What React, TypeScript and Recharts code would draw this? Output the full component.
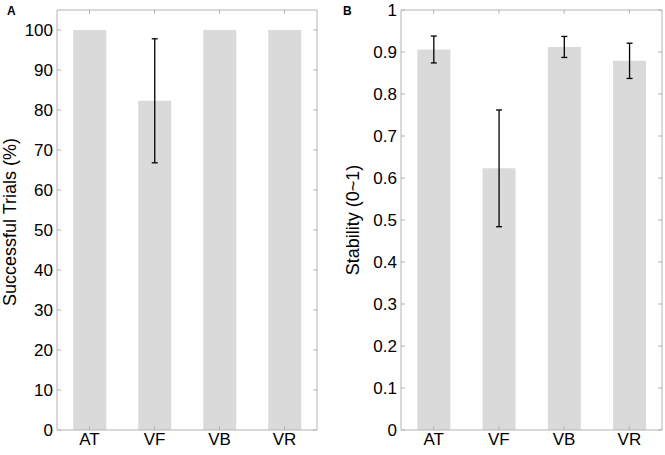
import React from "react";
import { BarChart, Bar, XAxis, YAxis, ErrorBar } from "recharts";

const categories = ["AT", "VF", "VB", "VR"];
const successValues = [100, 82.3, 100, 100];
const successErrors: (number | null)[] = [null, 15.5, null, null];
const stabilityValues = [0.906, 0.623, 0.912, 0.879];
const stabilityErrors = [0.032, 0.139, 0.025, 0.042];
const successTicks = [0, 10, 20, 30, 40, 50, 60, 70, 80, 90, 100];
const stabilityTicks = [0, 0.1, 0.2, 0.3, 0.4, 0.5, 0.6, 0.7, 0.8, 0.9, 1];

const dataA = categories.map((c, i) => ({ cat: c, value: successValues[i], err: successErrors[i] }));
const dataB = categories.map((c, i) => ({ cat: c, value: stabilityValues[i], err: stabilityErrors[i] }));

const FONT = "'Liberation Sans', Arial, sans-serif";
const BOX = "#b4b4b4";
const BAR = "#dadada";
const tickStyle = { fill: "#000", fontSize: 17, fontFamily: FONT };
const noLabel = () => <g />;

function Panel({
  data,
  width,
  yWidth,
  right,
  domain,
  ticks,
  fmt,
}: {
  data: any[];
  width: number;
  yWidth: number;
  right: number;
  domain: [number, number];
  ticks: number[];
  fmt: (v: number) => string;
}) {
  return (
    <BarChart
      width={width}
      height={455}
      data={data}
      margin={{ top: 10, right, bottom: 0, left: 0 }}
      barCategoryGap="25%"
    >
      <XAxis
        xAxisId="x"
        dataKey="cat"
        height={25}
        tickLine={false}
        tickSize={0}
        tickMargin={3}
        axisLine={{ stroke: BOX }}
        tick={tickStyle}
        interval={0}
      />
      <XAxis
        xAxisId="xb"
        dataKey="cat"
        orientation="bottom"
        mirror
        tick={noLabel}
        tickSize={4}
        tickLine={{ stroke: BOX }}
        axisLine={false}
        interval={0}
      />
      <XAxis
        xAxisId="xt"
        dataKey="cat"
        orientation="top"
        mirror
        tick={noLabel}
        tickSize={4}
        tickLine={{ stroke: BOX }}
        axisLine={{ stroke: BOX }}
        interval={0}
      />
      <YAxis
        yAxisId="y"
        width={yWidth}
        type="number"
        domain={domain}
        ticks={ticks}
        interval={0}
        allowDataOverflow
        tickLine={false}
        tickSize={0}
        tickMargin={4}
        axisLine={{ stroke: BOX }}
        tick={tickStyle}
        tickFormatter={fmt}
      />
      <YAxis
        yAxisId="yl"
        orientation="left"
        mirror
        type="number"
        domain={domain}
        ticks={ticks}
        interval={0}
        allowDataOverflow
        tick={noLabel}
        tickSize={4}
        tickLine={{ stroke: BOX }}
        axisLine={false}
      />
      <YAxis
        yAxisId="yr"
        orientation="right"
        mirror
        type="number"
        domain={domain}
        ticks={ticks}
        interval={0}
        allowDataOverflow
        tick={noLabel}
        tickSize={4}
        tickLine={{ stroke: BOX }}
        axisLine={{ stroke: BOX }}
      />
      <Bar xAxisId="x" yAxisId="y" dataKey="value" fill={BAR} isAnimationActive={false}>
        <ErrorBar dataKey="err" direction="y" width={3} stroke="#000" strokeWidth={1.3} isAnimationActive={false} />
      </Bar>
    </BarChart>
  );
}

export default function App() {
  return (
    <div
      style={{
        position: "absolute",
        left: 0,
        top: 0,
        width: 665,
        height: 455,
        background: "#fff",
        fontFamily: FONT,
      }}
    >
      <div style={{ position: "absolute", left: 0, top: 0 }}>
        <Panel
          data={dataA}
          width={330}
          yWidth={57}
          right={13}
          domain={[0, 105]}
          ticks={successTicks}
          fmt={(v) => String(v)}
        />
      </div>
      <div style={{ position: "absolute", left: 330, top: 0 }}>
        <Panel
          data={dataB}
          width={335}
          yWidth={71}
          right={3}
          domain={[0, 1]}
          ticks={stabilityTicks}
          fmt={(v) => (v === 0 || v === 1 ? String(v) : v.toFixed(1))}
        />
      </div>
      <svg
        width={665}
        height={455}
        style={{ position: "absolute", left: 0, top: 0, pointerEvents: "none" }}
      >
        <text x={7} y={15} fontSize={12} fontWeight="bold" fontFamily={FONT} fill="#000">
          A
        </text>
        <text x={343} y={15} fontSize={12} fontWeight="bold" fontFamily={FONT} fill="#000">
          B
        </text>
        <text
          x={16}
          y={222}
          transform="rotate(-90 16 222)"
          textAnchor="middle"
          fontSize={18}
          fontFamily={FONT}
          fill="#000"
        >
          Successful Trials (%)
        </text>
        <text
          x={359}
          y={220}
          transform="rotate(-90 359 220)"
          textAnchor="middle"
          fontSize={18}
          fontFamily={FONT}
          fill="#000"
        >
          Stability (0~1)
        </text>
      </svg>
    </div>
  );
}
